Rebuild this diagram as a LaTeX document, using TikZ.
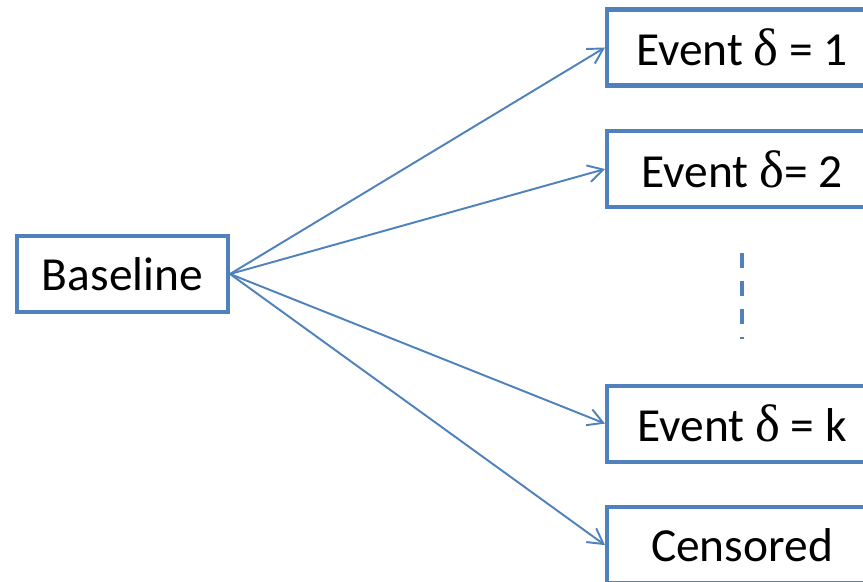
\documentclass[tikz,border=0pt]{standalone}
\usepackage{fontspec}
\setmainfont{Carlito}
\newfontfamily\greekfont{Liberation Serif}
\usetikzlibrary{positioning,arrows.meta}

\definecolor{boxblue}{HTML}{4F81BD}

\tikzset{
    box/.style={draw=boxblue, line width=2.3pt, inner sep=0pt,
        minimum width=5.4cm, minimum height=1.52cm,
        font=\fontsize{27}{31}\selectfont},
    link/.style={draw=boxblue, line width=1.1pt,
        -{Straight Barb[length=3mm,width=3.4mm]}},
    vdots/.style={draw=boxblue, line width=2.1pt, dash pattern=on 0.3cm off 0.26cm},
}

\begin{document}
\begin{tikzpicture}[node distance=0.83cm]

    \useasboundingbox (0,0) rectangle (17.26,-11.64);
    \clip (0,0) rectangle (17.26,-11.64);

    \node[box, minimum width=4.22cm] (base) at (2.45,-5.48) {Baseline};
    \node[box] (e1) at (14.84,-0.95) {Event {\greekfont\fontsize{30}{31}\selectfont δ} = 1};
    \node[box] (e2) [below=of e1] {Event {\greekfont\fontsize{30}{31}\selectfont δ}= 2};
    \node[box] (ek) [below=3.49cm of e2] {Event {\greekfont\fontsize{30}{31}\selectfont δ} = k};
    \node[box] (cens) [below=of ek] {Censored};

    \path (base.east) edge[link] (e1.west);
    \path (base.east) edge[link] (e2.west);
    \path (base.east) edge[link] (ek.west);
    \path (base.east) edge[link] (cens.west);

    \draw[vdots] ([yshift=-0.88cm]e2.south) -- ([yshift=0.89cm]ek.north);

\end{tikzpicture}
\end{document}
